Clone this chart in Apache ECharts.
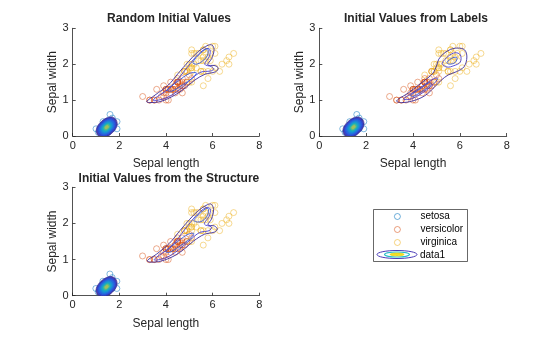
<!DOCTYPE html>
<html>
<head>
<meta charset="utf-8">
<script src="https://cdn.jsdelivr.net/npm/echarts@6/dist/echarts.min.js"></script>
<style>html,body{margin:0;padding:0;background:#fff}#c{width:560px;height:337px}</style>
</head>
<body>
<div id="c"></div>
<script>
// ---- data (petal length / petal width of the iris flowers, as plotted) ----
const setosa = [[1.4,0.2],[1.4,0.2],[1.3,0.2],[1.5,0.2],[1.4,0.2],[1.7,0.4],[1.4,0.3],[1.5,0.2],[1.4,0.2],[1.5,0.1],[1.5,0.2],[1.6,0.2],[1.4,0.1],[1.1,0.1],[1.2,0.2],[1.5,0.4],[1.3,0.4],[1.4,0.3],[1.7,0.3],[1.5,0.3],[1.7,0.2],[1.5,0.4],[1.0,0.2],[1.7,0.5],[1.9,0.2],[1.6,0.2],[1.6,0.4],[1.5,0.2],[1.4,0.2],[1.6,0.2],[1.6,0.2],[1.5,0.4],[1.5,0.1],[1.4,0.2],[1.5,0.2],[1.2,0.2],[1.3,0.2],[1.4,0.1],[1.3,0.2],[1.5,0.2],[1.3,0.3],[1.3,0.3],[1.3,0.2],[1.6,0.6],[1.9,0.4],[1.4,0.3],[1.6,0.2],[1.4,0.2],[1.5,0.2],[1.4,0.2]];
const versicolor = [[4.7,1.4],[4.5,1.5],[4.9,1.5],[4.0,1.3],[4.6,1.5],[4.5,1.3],[4.7,1.6],[3.3,1.0],[4.6,1.3],[3.9,1.4],[3.5,1.0],[4.2,1.5],[4.0,1.0],[4.7,1.4],[3.6,1.3],[4.4,1.4],[4.5,1.5],[4.1,1.0],[4.5,1.5],[3.9,1.1],[4.8,1.8],[4.0,1.3],[4.9,1.5],[4.7,1.2],[4.3,1.3],[4.4,1.4],[4.8,1.4],[5.0,1.7],[4.5,1.5],[3.5,1.0],[3.8,1.1],[3.7,1.0],[3.9,1.2],[5.1,1.6],[4.5,1.5],[4.5,1.6],[4.7,1.5],[4.4,1.3],[4.1,1.3],[4.0,1.3],[4.4,1.2],[4.6,1.4],[4.0,1.2],[3.3,1.0],[4.2,1.3],[4.2,1.2],[4.2,1.3],[4.3,1.3],[3.0,1.1],[4.1,1.3]];
const virginica = [[6.0,2.5],[5.1,1.9],[5.9,2.1],[5.6,1.8],[5.8,2.2],[6.6,2.1],[4.5,1.7],[6.3,1.8],[5.8,1.8],[6.1,2.5],[5.1,2.0],[5.3,1.9],[5.5,2.1],[5.0,2.0],[5.1,2.4],[5.3,2.3],[5.5,1.8],[6.7,2.2],[6.9,2.3],[5.0,1.5],[5.7,2.3],[4.9,2.0],[6.7,2.0],[4.9,1.8],[5.7,2.1],[6.0,1.8],[4.8,1.8],[4.9,1.8],[5.6,2.1],[5.8,1.6],[6.1,1.9],[6.4,2.0],[5.6,2.2],[5.1,1.5],[5.6,1.4],[6.1,2.3],[5.6,2.4],[5.5,1.8],[4.8,1.8],[5.4,2.1],[5.6,2.4],[5.1,2.3],[5.1,1.9],[5.9,2.3],[5.7,2.5],[5.2,2.3],[5.0,1.9],[5.2,2.0],[5.4,2.3],[5.1,1.8]];

const titles = ['Random Initial Values', 'Initial Values from Labels', 'Initial Values from the Structure'];
const xTicks = [0, 2, 4, 6, 8];
const yTicks = [0, 1, 2, 3];

// setosa density blob: outer contour, centre, nested level scales and colours
const setosaCenter = [1.46, 0.245];
const setosaOuter = [[1.91,0.34],[1.84,0.47],[1.66,0.53],[1.44,0.50],[1.22,0.40],[1.06,0.27],[1.01,0.15],[1.08,0.02],[1.26,-0.04],[1.48,-0.01],[1.70,0.09],[1.86,0.22]];
const ringScales = [1, 0.87, 0.76, 0.66, 0.56, 0.46, 0.36, 0.26, 0.16];
const ringColors = ['#3a2d9a','#3048d4','#2b5fe0','#2474dc','#1c8cd8','#16a2cc','#22b2b0','#5dbb86','#a8c058'];

// traced contour lines of the other two components for each subplot
const contoursRandom = [
  {c:'#3b2c9e', p:[[3.17,0.96],[3.53,1.14],[4.10,1.42],[4.53,1.75],[4.96,2.07],[5.38,2.35],[5.81,2.53],[5.98,2.53],[6.06,2.40],[5.96,2.16],[5.79,1.98],[6.10,1.96],[6.24,1.89],[6.13,1.79],[5.67,1.72],[5.24,1.56],[4.81,1.33],[4.38,1.14],[3.81,0.97],[3.31,0.93]]},
  {c:'#4a3fd0', p:[[3.45,1.0],[4.2,1.36],[4.8,1.82],[5.3,2.22],[5.7,2.43],[5.88,2.41],[5.86,2.22],[5.66,2.0],[5.95,1.93],[6.05,1.86],[5.9,1.81],[5.5,1.78],[5.1,1.6],[4.6,1.3],[4.0,1.06]]},
  {c:'#3558e0', p:[[4.05,1.28],[4.5,1.52],[5.0,1.74],[5.3,1.76],[5.15,1.62],[4.7,1.42],[4.25,1.25]]},
  {c:'#3558e0', p:[[5.15,2.05],[5.5,2.32],[5.78,2.43],[5.78,2.25],[5.55,2.08],[5.3,2.0]]}
];
const contoursLabels = [
  {c:'#3b2c9e', p:[[3.3,0.98],[3.8,1.2],[4.4,1.5],[4.85,1.75],[5.02,1.98],[5.1,2.14],[5.32,2.3],[5.6,2.41],[5.9,2.45],[6.2,2.4],[6.3,2.2],[6.18,1.93],[5.85,1.79],[5.5,1.7],[5.2,1.55],[4.9,1.35],[4.5,1.12],[4.0,0.98],[3.5,0.93]]},
  {c:'#4a3fd0', p:[[3.6,1.03],[4.0,1.21],[4.5,1.43],[4.9,1.6],[5.05,1.6],[4.85,1.43],[4.4,1.2],[3.9,1.03]]},
  {c:'#3558e0', p:[[3.9,1.13],[4.3,1.31],[4.7,1.49],[4.78,1.44],[4.4,1.25],[4.0,1.1]]},
  {c:'#4a3fd0', p:[[5.25,2.02],[5.5,2.22],[5.8,2.32],[6.02,2.26],[6.02,2.06],[5.75,1.96],[5.45,1.92]]},
  {c:'#3558e0', p:[[5.45,2.05],[5.7,2.18],[5.88,2.18],[5.8,2.05],[5.55,2.0]]}
];
const contoursStructure = [
  {c:'#3b2c9e', p:[[3.2,0.97],[3.6,1.15],[4.15,1.45],[4.6,1.8],[5.0,2.1],[5.4,2.36],[5.78,2.52],[5.95,2.53],[6.04,2.38],[5.95,2.12],[5.8,1.96],[6.08,1.93],[6.2,1.84],[6.08,1.76],[5.65,1.7],[5.2,1.52],[4.8,1.3],[4.35,1.1],[3.8,0.96],[3.35,0.93]]},
  {c:'#4a3fd0', p:[[3.5,1.0],[4.25,1.38],[4.82,1.84],[5.3,2.22],[5.72,2.44],[5.9,2.4],[5.85,2.2],[5.65,1.98],[5.95,1.9],[5.85,1.8],[5.45,1.75],[5.05,1.55],[4.55,1.27],[4.0,1.05]]},
  {c:'#3558e0', p:[[4.0,1.22],[4.5,1.5],[4.95,1.7],[5.2,1.72],[5.0,1.56],[4.55,1.35],[4.15,1.2]]},
  {c:'#3558e0', p:[[5.2,2.08],[5.55,2.33],[5.8,2.42],[5.78,2.22],[5.5,2.05]]}
];
const contourSets = [contoursRandom, contoursLabels, contoursStructure];

const colors = {setosa:'#0072BD', versicolor:'#D95319', virginica:'#EDB120'};

// ---- layout ----
const grids = [
  {left:72.7, top:28.3, width:186.6, height:107.7},
  {left:319.3, top:28.3, width:187.4, height:107.7},
  {left:72.5, top:187.3, width:186.8, height:108.4}
];
const FONT = 'Liberation Sans, Arial, Helvetica, sans-serif';
const AX = '#262626';

const xAxis = [], yAxis = [], series = [], title = [];
grids.forEach((g, k) => {
  title.push({text: titles[k], left: g.left + g.width/2 + 3, top: k === 2 ? 172.5 : 12.5, textAlign:'center', padding:0,
    textStyle:{fontFamily:FONT, fontSize:12, fontWeight:'bold', color:AX}});
  xAxis.push({type:'value', gridIndex:k, min:xTicks[0], max:xTicks[xTicks.length-1], interval:2,
    axisLine:{show:true, onZero:false, lineStyle:{color:AX, width:0.8}},
    axisTick:{show:true, inside:true, length:3, lineStyle:{color:AX, width:0.8}},
    axisLabel:{color:AX, fontSize:11, fontFamily:FONT, margin:4},
    splitLine:{show:false},
    name:'Sepal length', nameLocation:'middle', nameGap:22,
    nameTextStyle:{fontSize:12, fontFamily:FONT, color:AX}});
  yAxis.push({type:'value', gridIndex:k, min:yTicks[0], max:yTicks[yTicks.length-1], interval:1,
    axisLine:{show:true, onZero:false, lineStyle:{color:AX, width:0.8}},
    axisTick:{show:true, inside:true, length:3, lineStyle:{color:AX, width:0.8}},
    axisLabel:{color:AX, fontSize:11, fontFamily:FONT, margin:4},
    splitLine:{show:false},
    name:'Sepal width', nameLocation:'middle', nameGap:13,
    nameTextStyle:{fontSize:12, fontFamily:FONT, color:AX}});
  [['setosa', setosa], ['versicolor', versicolor], ['virginica', virginica]].forEach(([n, d]) => {
    series.push({type:'scatter', name:n, xAxisIndex:k, yAxisIndex:k, data:d, symbol:'circle', symbolSize:6,
      itemStyle:{color:'rgba(0,0,0,0)', borderColor:colors[n], borderWidth:0.7, opacity:0.7},
      emphasis:{disabled:true}, silent:true, animation:false, z:2});
  });
  // setosa component: nested contour rings
  series.push({type:'custom', name:'data1', xAxisIndex:k, yAxisIndex:k, clip:true, animation:false, silent:true, z:3,
    data: ringScales.map((s, i) => [setosaCenter[0], setosaCenter[1], s, i]),
    renderItem: (params, api) => {
      const i = params.dataIndex, s = ringScales[i];
      const pts = setosaOuter.map(q => api.coord([setosaCenter[0] + s*(q[0]-setosaCenter[0]), setosaCenter[1] + s*(q[1]-setosaCenter[1])]));
      return {type:'polygon', shape:{points:pts, smooth:0.35},
        style:{fill: ringColors[i], opacity: 0.9, stroke: ringColors[i], lineWidth: 0.8}};
    }});
  // other components: traced contour lines
  const cl = contourSets[k];
  series.push({type:'custom', name:'data1', xAxisIndex:k, yAxisIndex:k, clip:true, animation:false, silent:true, z:3,
    data: cl.map((o, i) => [o.p[0][0], o.p[0][1], i]),
    renderItem: (params, api) => {
      const o = cl[params.dataIndex];
      const pts = o.p.map(q => api.coord(q));
      return {type:'polygon', shape:{points:pts, smooth:0.35}, style:{fill:'none', stroke:o.c, lineWidth:0.9}};
    }});
});

const chart = echarts.init(document.getElementById('c'), null, {renderer:'canvas'});
chart.setOption({
  animation:false,
  backgroundColor:'#fff',
  title,
  grid: grids.map(g => Object.assign({outerBoundsMode:'none', containLabel:false}, g)),
  xAxis, yAxis, series,
  legend: [
    {orient:'vertical', left:394, top:210, padding:0, itemGap:0, itemWidth:6, itemHeight:6, selectedMode:false,
      textStyle:{fontFamily:FONT, fontSize:10, color:'#000', lineHeight:13, padding:[0,0,0,15]},
      data:['setosa','versicolor','virginica'].map(n => ({name:n, icon:'circle', itemStyle:{color:'rgba(0,0,0,0)', borderColor:colors[n], borderWidth:0.8}}))},
    {orient:'vertical', left:373, top:248.5, padding:0, itemWidth:42, itemHeight:12, selectedMode:false,
      textStyle:{fontFamily:FONT, fontSize:10, color:'#000', lineHeight:13},
      data:[{name:'data1', icon:'rect', itemStyle:{color:'rgba(0,0,0,0)', borderWidth:0}}]}
  ],
  graphic: [
    {type:'rect', z:1, shape:{x:373.5, y:209.5, width:94, height:52}, style:{fill:'#fff', stroke:AX, lineWidth:0.7}},
    {type:'ellipse', z:10, shape:{cx:397, cy:254.5, rx:20, ry:4}, style:{fill:'none', stroke:'#4a3bb8', lineWidth:1}},
    {type:'ellipse', z:10, shape:{cx:397, cy:254.5, rx:12.5, ry:2.5}, style:{fill:'none', stroke:'#22bcc8', lineWidth:1.2}},
    {type:'ellipse', z:10, shape:{cx:397, cy:254.5, rx:7, ry:1.4}, style:{fill:'#f2e024', stroke:'#e8d020', lineWidth:0.8}}
  ]
});
</script>
</body>
</html>
